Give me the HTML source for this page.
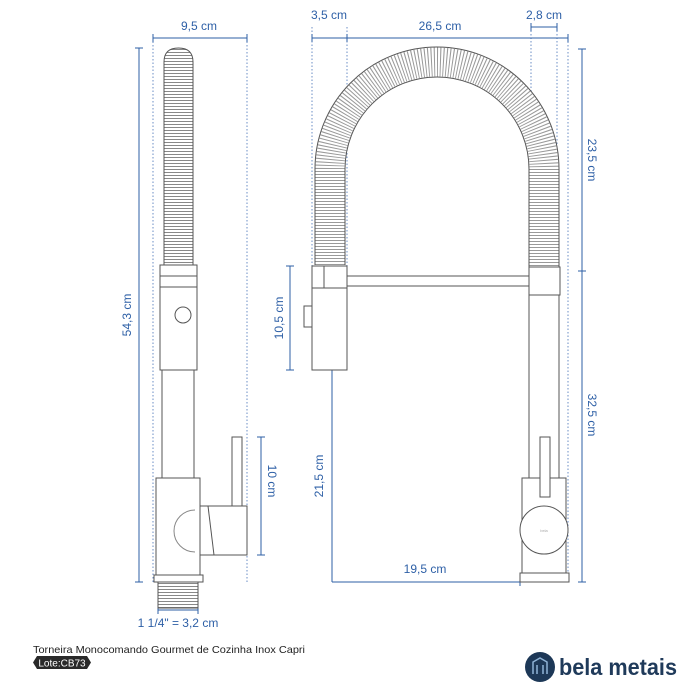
<!DOCTYPE html>
<html><head><meta charset="utf-8"><style>
html,body{margin:0;padding:0;background:#fff;}
svg{display:block;}
.b{fill:#2d5fa6;font-family:"Liberation Sans",sans-serif;font-size:12px;}
</style></head><body>
<svg width="700" height="700" viewBox="0 0 700 700" xmlns="http://www.w3.org/2000/svg">
<defs>
<pattern id="rib" width="4" height="3" patternUnits="userSpaceOnUse"><rect width="4" height="3" fill="#fff"/><line x1="0" y1="1.5" x2="4" y2="1.5" stroke="#888" stroke-width="1"/></pattern>
</defs>
<g stroke="#2d5fa6" stroke-width="1" fill="none">
<!-- dotted guide lines -->
<g stroke-dasharray="1.5,2" stroke="#6a8cc4">
<line x1="153" y1="38" x2="153" y2="582"/><line x1="247" y1="38" x2="247" y2="582"/>
<line x1="312" y1="27" x2="312" y2="270"/><line x1="347" y1="27" x2="347" y2="270"/>
<line x1="531" y1="27" x2="531" y2="290"/><line x1="557" y1="27" x2="557" y2="582"/>
<line x1="568" y1="38" x2="568" y2="582"/>
</g>
<line x1="153" y1="38" x2="247" y2="38"/><line x1="153" y1="34" x2="153" y2="42"/><line x1="247" y1="34" x2="247" y2="42"/>
<line x1="312" y1="38" x2="568" y2="38"/><line x1="312" y1="34" x2="312" y2="42"/><line x1="347" y1="34" x2="347" y2="42"/><line x1="568" y1="34" x2="568" y2="42"/>
<line x1="531" y1="27" x2="557" y2="27"/><line x1="531" y1="23" x2="531" y2="31"/><line x1="557" y1="23" x2="557" y2="31"/>
<line x1="139" y1="48" x2="139" y2="582"/><line x1="135" y1="48" x2="143" y2="48"/><line x1="135" y1="582" x2="143" y2="582"/>
<line x1="158" y1="610" x2="198" y2="610"/><line x1="158" y1="606" x2="158" y2="614"/><line x1="198" y1="606" x2="198" y2="614"/>
<line x1="261" y1="437" x2="261" y2="555"/><line x1="257" y1="437" x2="265" y2="437"/><line x1="257" y1="555" x2="265" y2="555"/>
<line x1="290" y1="266" x2="290" y2="370"/><line x1="286" y1="266" x2="294" y2="266"/><line x1="286" y1="370" x2="294" y2="370"/>
<line x1="332" y1="370" x2="332" y2="582"/><line x1="332" y1="582" x2="520" y2="582"/><line x1="520" y1="578" x2="520" y2="586"/>
<line x1="582" y1="49" x2="582" y2="582"/><line x1="578" y1="49" x2="586" y2="49"/><line x1="578" y1="271" x2="586" y2="271"/><line x1="578" y1="582" x2="586" y2="582"/>
</g>
<g class="b">
<text x="199" y="30" text-anchor="middle">9,5 cm</text>
<text x="329" y="19" text-anchor="middle">3,5 cm</text>
<text x="440" y="30" text-anchor="middle">26,5 cm</text>
<text x="544" y="19" text-anchor="middle">2,8 cm</text>
<text x="178" y="627" text-anchor="middle">1 1/4" = 3,2 cm</text>
<text x="425" y="573" text-anchor="middle">19,5 cm</text>
<text transform="translate(131,315) rotate(-90)" text-anchor="middle">54,3 cm</text>
<text transform="translate(268,481) rotate(90)" text-anchor="middle">10 cm</text>
<text transform="translate(283,318) rotate(-90)" text-anchor="middle">10,5 cm</text>
<text transform="translate(323,476) rotate(-90)" text-anchor="middle">21,5 cm</text>
<text transform="translate(588,160) rotate(90)" text-anchor="middle">23,5 cm</text>
<text transform="translate(588,415) rotate(90)" text-anchor="middle">32,5 cm</text>
</g>
<g stroke="#555" stroke-width="1" fill="#fff">
<!-- left view -->
<path d="M164 265 V62 Q164 48 178.5 48 Q193 48 193 62 V265 Z" fill="url(#rib)"/>
<rect x="160" y="265" width="37" height="22"/><line x1="160" y1="276" x2="197" y2="276"/>
<rect x="160" y="287" width="37" height="83"/>
<circle cx="183" cy="315" r="8"/>
<rect x="162" y="370" width="32" height="108"/>
<rect x="156" y="478" width="44" height="97"/>
<rect x="200" y="506" width="47" height="49"/><line x1="208" y1="506" x2="214" y2="555" />
<path d="M195 510 A20 20 0 0 0 195 552" fill="none" stroke="#888"/>
<rect x="232" y="437" width="10" height="69"/>
<rect x="154" y="575" width="49" height="7"/>
<rect x="158" y="582" width="40" height="26" fill="url(#rib)"/>
<!-- right view hose -->
<path d="M330 265 V169 A107 107 0 0 1 544 169 V267" fill="none" stroke="#555" stroke-width="31"/>
<path d="M330 265 V169 A107 107 0 0 1 544 169 V267" fill="none" stroke="#fff" stroke-width="29"/>
<path d="M330 265 V169 A107 107 0 0 1 544 169 V267" fill="none" stroke="#999" stroke-width="29" stroke-dasharray="1,2"/>
<rect x="312" y="266" width="35" height="22"/><line x1="324" y1="266" x2="324" y2="288"/>
<rect x="347" y="276" width="182" height="10"/>
<rect x="529" y="267" width="31" height="28"/>
<rect x="312" y="288" width="35" height="82"/>
<rect x="304" y="306" width="8" height="21"/>
<rect x="529" y="295" width="30" height="183"/>
<rect x="522" y="478" width="44" height="95"/>
<rect x="540" y="437" width="10" height="60"/>
<circle cx="544" cy="530" r="24"/>
<rect x="520" y="573" width="49" height="9"/>
</g>
<text x="544" y="532" font-family="Liberation Sans,sans-serif" font-size="4" fill="#aaa" text-anchor="middle">bela</text>
<text x="33" y="653" font-family="Liberation Sans,sans-serif" font-size="10.5" fill="#222" textLength="272" lengthAdjust="spacingAndGlyphs">Torneira Monocomando Gourmet de Cozinha Inox Capri</text>
<path d="M37 656 H87 L91 662.5 L87 669 H37 L33 662.5 Z" fill="#2a2a2a"/>
<text x="62" y="666.5" font-family="Liberation Sans,sans-serif" font-size="10" fill="#fff" text-anchor="middle">Lote:CB73</text>
<circle cx="540" cy="667" r="15" fill="#1d3857"/>
<path d="M533 674 V662 L540 658 L547 662 V674 M537 674 V665 M543 674 V665" stroke="#8fb3d6" stroke-width="1.5" fill="none"/>
<text x="559" y="675" font-family="Liberation Sans,sans-serif" font-size="23" font-weight="bold" fill="#1f3a5a" textLength="118" lengthAdjust="spacingAndGlyphs">bela metais</text>
</svg>
</body></html>
